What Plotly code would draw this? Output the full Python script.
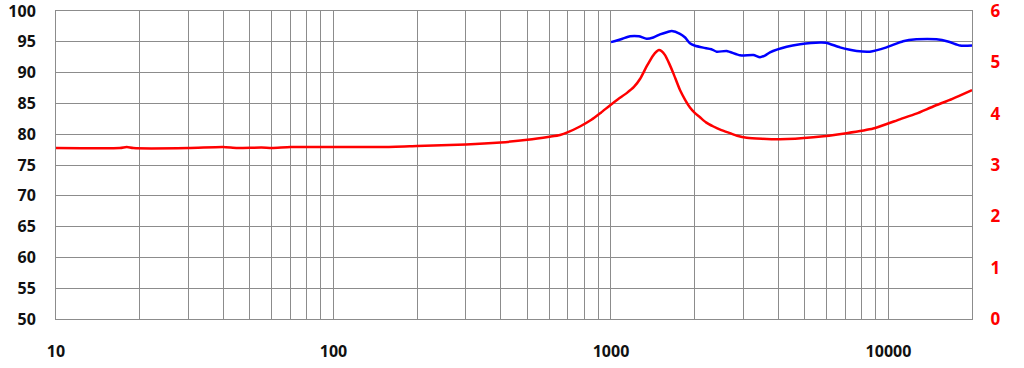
import plotly.graph_objects as go

# SPL (left axis, dB)
spl_freq = [1000, 1100, 1171, 1260, 1344, 1420, 1502, 1600, 1656, 1773, 1850, 1926, 2000, 2150, 2300, 2404, 2612, 2917, 3260, 3444, 3600, 3741, 4298, 4800, 5665, 5950, 6686, 7260, 7680, 8570, 9840, 11290, 12610, 14890, 16500, 18100, 20000]
spl_db = [94.95, 95.5, 95.9, 95.9, 95.5, 95.7, 96.2, 96.6, 96.75, 96.3, 95.7, 94.75, 94.4, 94.05, 93.8, 93.4, 93.5, 92.8, 92.85, 92.5, 92.8, 93.3, 94.2, 94.6, 94.9, 94.86, 94.1, 93.7, 93.5, 93.4, 94.1, 95.1, 95.4, 95.4, 95.0, 94.4, 94.4]

# Impedance (right axis, ohm)
imp_freq = [10, 17, 18, 19, 30, 40, 45, 55, 60, 70, 100, 150, 200, 300, 400, 500, 600, 655, 700, 773, 850, 920, 991, 1060, 1139, 1210, 1274, 1344, 1421, 1460, 1489, 1520, 1566, 1620, 1677, 1773, 1850, 1926, 2000, 2093, 2200, 2340, 2500, 2686, 2850, 3085, 3500, 4065, 5360, 7060, 8816, 10990, 12600, 14490, 17000, 20000]
imp_ohm = [3.33, 3.33, 3.35, 3.33, 3.33, 3.35, 3.33, 3.34, 3.33, 3.35, 3.35, 3.35, 3.37, 3.40, 3.44, 3.49, 3.55, 3.585, 3.64, 3.75, 3.88, 4.02, 4.16, 4.28, 4.40, 4.52, 4.68, 4.92, 5.14, 5.21, 5.24, 5.22, 5.14, 4.98, 4.79, 4.46, 4.27, 4.12, 4.02, 3.93, 3.83, 3.75, 3.68, 3.62, 3.57, 3.53, 3.51, 3.50, 3.54, 3.62, 3.71, 3.89, 4.00, 4.14, 4.29, 4.46]

x_tickvals = [m * 10 ** e for e in range(1, 5) for m in range(1, 10)] + [20000]
x_ticktext = [str(v) if v in (10, 100, 1000, 10000) else "" for v in x_tickvals]
left_ticks = list(range(50, 101, 5))
right_ticks = list(range(0, 7))

fig = go.Figure()
fig.add_trace(go.Scatter(x=spl_freq, y=spl_db, mode="lines",
                         line=dict(color="#0000ff", width=2.5, shape="spline", smoothing=0.6), yaxis="y"))
fig.add_trace(go.Scatter(x=imp_freq, y=imp_ohm, mode="lines",
                         line=dict(color="#ff0000", width=2.5, shape="spline", smoothing=0.6), yaxis="y2"))

font = dict(family="Open Sans", size=16, color="#111111", weight=700)
grid = "#8c8c8c"
fig.update_layout(
    width=1024, height=368,
    margin=dict(l=56, r=52, t=11, b=49, autoexpand=False),
    paper_bgcolor="white", plot_bgcolor="white",
    showlegend=False,
    xaxis=dict(type="log", range=[1, 4.30103], tickvals=x_tickvals, ticktext=x_ticktext,
               showgrid=True, gridcolor=grid, gridwidth=1, automargin=False,
               showline=True, linecolor=grid, linewidth=1, mirror=True,
               ticks="outside", ticklen=18, tickcolor="rgba(0,0,0,0)",
               ticklabeloverflow="allow",
               tickfont=font, zeroline=False),
    yaxis=dict(range=[50, 100], tickvals=left_ticks, automargin=False,
               showgrid=True, gridcolor=grid, gridwidth=1,
               showline=True, linecolor=grid, linewidth=1, mirror=True,
               ticks="outside", ticklen=16, tickcolor="rgba(0,0,0,0)",
               ticklabeloverflow="allow",
               tickfont=font, zeroline=False),
    yaxis2=dict(range=[0, 6], tickvals=right_ticks, overlaying="y", side="right",
                showgrid=False, zeroline=False, automargin=False,
                ticks="outside", ticklen=14, tickcolor="rgba(0,0,0,0)",
                ticklabeloverflow="allow",
                tickfont=dict(family="Open Sans", size=17, color="#ff0000", weight=700)),
)

fig.write_html("out.html")
